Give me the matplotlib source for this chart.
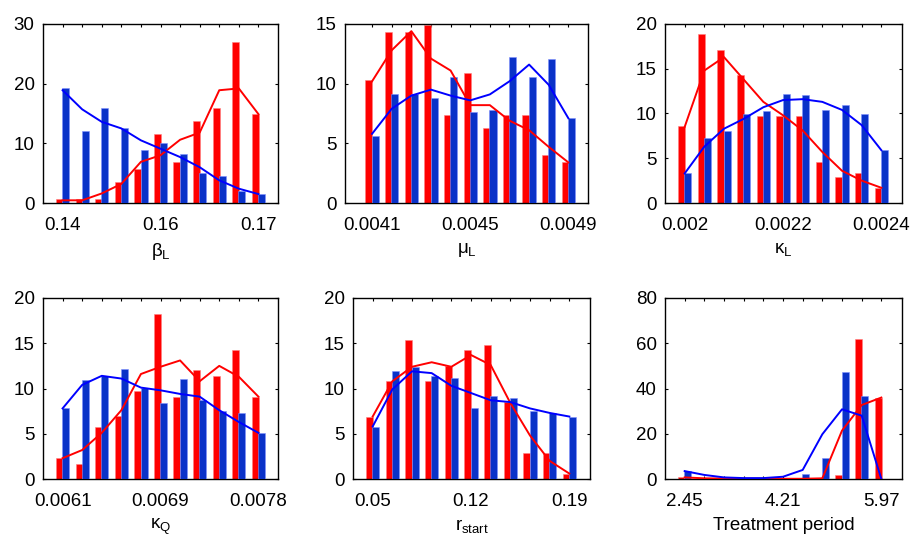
import numpy as np
import matplotlib
matplotlib.use("Agg")
import matplotlib.pyplot as plt

plt.rcParams['font.family'] = ['Liberation Sans', 'DejaVu Sans']
plt.rcParams['mathtext.fontset'] = 'custom'
plt.rcParams['mathtext.rm'] = 'Liberation Sans'
plt.rcParams['mathtext.default'] = 'regular'

# --- data (percent per bin, 11 bins per parameter) ---
labels = [r'$\beta_L$', r'$\mu_L$', r'$\kappa_L$', r'$\kappa_Q$', r'$r_{start}$', 'Treatment period']
tick_labels = [['0.14', '0.16', '0.17'],
               ['0.0041', '0.0045', '0.0049'],
               ['0.002', '0.0022', '0.0024'],
               ['0.0061', '0.0069', '0.0078'],
               ['0.05', '0.12', '0.19'],
               ['2.45', '4.21', '5.97']]

red_bars = [
    [0.6, 0.6, 0.6, 3.5, 5.7, 11.5, 6.8, 13.7, 16.0, 26.9, 14.9],
    [10.3, 14.3, 14.3, 14.9, 7.4, 10.9, 6.3, 7.4, 7.4, 4.0, 3.4],
    [8.6, 18.9, 17.1, 14.3, 9.7, 9.7, 9.7, 4.6, 2.9, 3.4, 1.7],
    [2.3, 1.7, 5.7, 7.0, 9.7, 18.2, 9.1, 12.0, 11.4, 14.2, 9.1],
    [6.9, 10.8, 15.4, 10.8, 12.5, 14.3, 14.8, 8.5, 2.9, 2.9, 0.6],
    [0.7, 0, 0, 0, 0, 0, 0, 0, 1.8, 62.0, 36.0],
]
blue_bars = [
    [19.3, 12.0, 16.0, 12.6, 8.8, 10.0, 8.2, 5.1, 4.5, 2.0, 1.5],
    [5.6, 9.1, 9.1, 8.8, 10.6, 7.6, 7.8, 12.2, 10.6, 12.1, 7.1],
    [3.3, 7.3, 8.1, 9.9, 10.3, 12.2, 12.1, 10.4, 11.0, 9.9, 5.9],
    [7.8, 10.9, 11.4, 12.2, 10.1, 8.4, 11.0, 8.7, 7.5, 7.3, 5.1],
    [5.8, 11.9, 12.4, 11.4, 11.2, 7.8, 9.2, 8.9, 7.5, 7.3, 6.9],
    [3.7, 0, 0, 0, 0, 0, 2.2, 9.2, 47.1, 36.5, 0],
]
red_lines = [
    [0.45, 0.45, 1.6, 3.2, 6.9, 8.0, 10.6, 11.8, 18.9, 19.2, 14.9],
    [10.2, 12.8, 14.4, 12.1, 11.1, 8.2, 8.2, 6.9, 6.1, 4.7, 3.4],
    [8.5, 14.8, 16.3, 13.8, 11.3, 9.8, 8.1, 5.7, 3.6, 2.5, 1.7],
    [2.3, 3.2, 5.1, 7.6, 11.6, 12.4, 13.1, 10.8, 12.5, 11.3, 9.1],
    [6.9, 10.8, 12.4, 12.9, 12.4, 13.7, 12.6, 8.4, 4.8, 2.0, 0.6],
    [0.7, 0.3, 0.2, 0.1, 0.1, 0.1, 0.1, 0.3, 21.4, 32.7, 36.0],
]
blue_lines = [
    [18.9, 15.7, 13.6, 12.5, 10.5, 9.1, 7.7, 6.0, 3.8, 2.4, 1.5],
    [5.8, 7.9, 9.0, 9.5, 9.0, 8.6, 9.1, 10.2, 11.6, 9.9, 7.1],
    [3.3, 6.3, 8.3, 9.4, 10.7, 11.5, 11.6, 11.3, 10.4, 8.7, 5.9],
    [7.8, 10.4, 11.4, 11.1, 10.1, 9.8, 9.4, 9.1, 7.6, 6.3, 5.1],
    [5.8, 9.9, 11.9, 11.7, 10.3, 9.5, 8.7, 8.5, 7.8, 7.3, 6.9],
    [3.5, 1.8, 0.7, 0.4, 0.4, 1.0, 4.0, 19.8, 30.8, 28.0, 0.0],
]
y_max = [30, 15, 20, 20, 20, 80]
y_step = [10, 5, 5, 5, 5, 20]

# --- layout (pixels in a 914x544 figure) ---
W, H = 914, 544
boxes = [(43, 278, 24, 203), (345, 588, 24, 203), (665, 902, 24, 203),
         (43, 278, 298, 479), (353, 590, 298, 479), (665, 902, 298, 479)]
x_lims = [(0, 12), (-0.38, 12), (0, 12.05), (0, 12), (0, 12.05), (0, 12.05)]

RED = '#ff0000'
BLUE_BAR = '#0a32c8'
BLUE_LINE = '#0000ff'
FS = 13.5

fig = plt.figure(figsize=(W / 100, H / 100), dpi=100)
bins = np.arange(1, 12)
off, bw = 0.16, 0.36

for i in range(6):
    l, r, t, b = boxes[i]
    ax = fig.add_axes([l / W, 1 - b / H, (r - l) / W, (b - t) / H])
    ax.bar(bins - off, red_bars[i], width=bw, color=RED, edgecolor='#ff8080', linewidth=0.4, zorder=2)
    ax.bar(bins + off, blue_bars[i], width=bw, color=BLUE_BAR, edgecolor='#8090ff', linewidth=0.4, zorder=3)
    ax.plot(bins, red_lines[i], color=RED, lw=1.4, zorder=4)
    ax.plot(bins, blue_lines[i], color=BLUE_LINE, lw=1.4, zorder=5)

    ax.set_xlim(*x_lims[i])
    ax.set_ylim(0, y_max[i])
    ax.set_yticks(np.arange(0, y_max[i] + 1, y_step[i]))
    ax.set_xticks(bins)
    xt = [''] * 11
    xt[0], xt[5], xt[10] = tick_labels[i]
    ax.set_xticklabels(xt)
    ax.tick_params(direction='in', top=True, right=True, length=2.5, width=0.8,
                   labelsize=FS)
    ax.tick_params(axis='x', pad=10)
    ax.tick_params(axis='y', pad=6)
    for s in ax.spines.values():
        s.set_linewidth(1.0)
    ax.set_xlabel(labels[i], fontsize=FS, labelpad=5)

fig.savefig('out.png', dpi=100)
